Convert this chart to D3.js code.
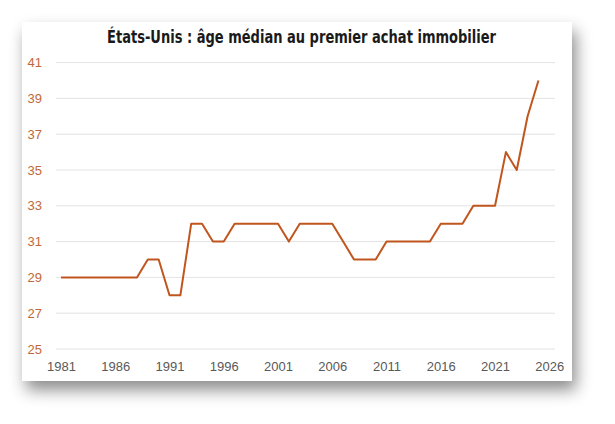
<!DOCTYPE html>
<html><head><meta charset="utf-8">
<script src="https://cdn.jsdelivr.net/npm/d3@7"></script>
<style>html,body{margin:0;padding:0;background:#fff;}svg{display:block;}</style>
</head><body>
<svg id="c" width="615" height="424"></svg>
<script>
const years = [1981,1982,1983,1984,1985,1986,1987,1988,1989,1990,1991,1992,1993,1994,1995,1996,1997,1998,1999,2000,2001,2002,2003,2004,2005,2006,2007,2008,2009,2010,2011,2012,2013,2014,2015,2016,2017,2018,2019,2020,2021,2022,2023,2024,2025];
const medianAge = [29,29,29,29,29,29,29,29,30,30,28,28,32,32,31,31,32,32,32,32,32,31,32,32,32,32,31,30,30,30,31,31,31,31,31,32,32,32,33,33,33,36,35,38,40];
const xTicks = [1981,1986,1991,1996,2001,2006,2011,2016,2021,2026];
const yTicks = [25,27,29,31,33,35,37,39,41];
const title = "États-Unis : âge médian au premier achat immobilier";

const svg = d3.select("#c");
const defs = svg.append("defs");
const f = defs.append("filter").attr("id","sh").attr("x","-20%").attr("y","-20%").attr("width","140%").attr("height","150%");
f.append("feDropShadow").attr("dx",4).attr("dy",9).attr("stdDeviation",8).attr("flood-color","#000").attr("flood-opacity",0.45);

svg.append("rect").attr("x",22).attr("y",22).attr("width",550).attr("height",359).attr("fill","#fff").attr("filter","url(#sh)");

const x = d3.scaleLinear().domain([1981,2026]).range([61,549.3]);
const y = d3.scaleLinear().domain([25,41]).range([349,62.6]);

svg.append("g").selectAll("line").data(yTicks).join("line")
  .attr("x1",56).attr("x2",555).attr("y1",d=>y(d)).attr("y2",d=>y(d))
  .attr("stroke","#e3e3e3").attr("stroke-width",1);

const yAxis = svg.append("g").attr("transform","translate(56,0)")
  .call(d3.axisLeft(y).tickValues(yTicks).tickSize(0).tickPadding(14).tickFormat(d3.format("d")));
yAxis.select(".domain").remove();
yAxis.selectAll("text").attr("fill","#c0683a").style("font-family","'Liberation Sans',Arial,sans-serif").style("font-size","13px");

const xAxis = svg.append("g").attr("transform","translate(0,360)")
  .call(d3.axisBottom(x).tickValues(xTicks).tickSize(0).tickPadding(2).tickFormat(d3.format("d")));
xAxis.select(".domain").remove();
xAxis.selectAll("text").attr("fill","#595959").style("font-family","'Liberation Sans',Arial,sans-serif").style("font-size","13px");

const line = d3.line().x((d,i)=>x(years[i])).y(d=>y(d));
svg.append("path").datum(medianAge).attr("d",line).attr("fill","none")
  .attr("stroke","#c0561e").attr("stroke-width",2).attr("stroke-linejoin","round");

svg.append("text").attr("x",301.5).attr("y",42.5).attr("text-anchor","middle")
  .style("font-family","'Liberation Sans Narrow','DejaVu Sans Condensed',sans-serif").style("font-weight","bold").style("font-size","17.5px")
  .attr("fill","#1a1a1a").attr("textLength",389).attr("lengthAdjust","spacingAndGlyphs").text(title);
</script>
</body></html>
